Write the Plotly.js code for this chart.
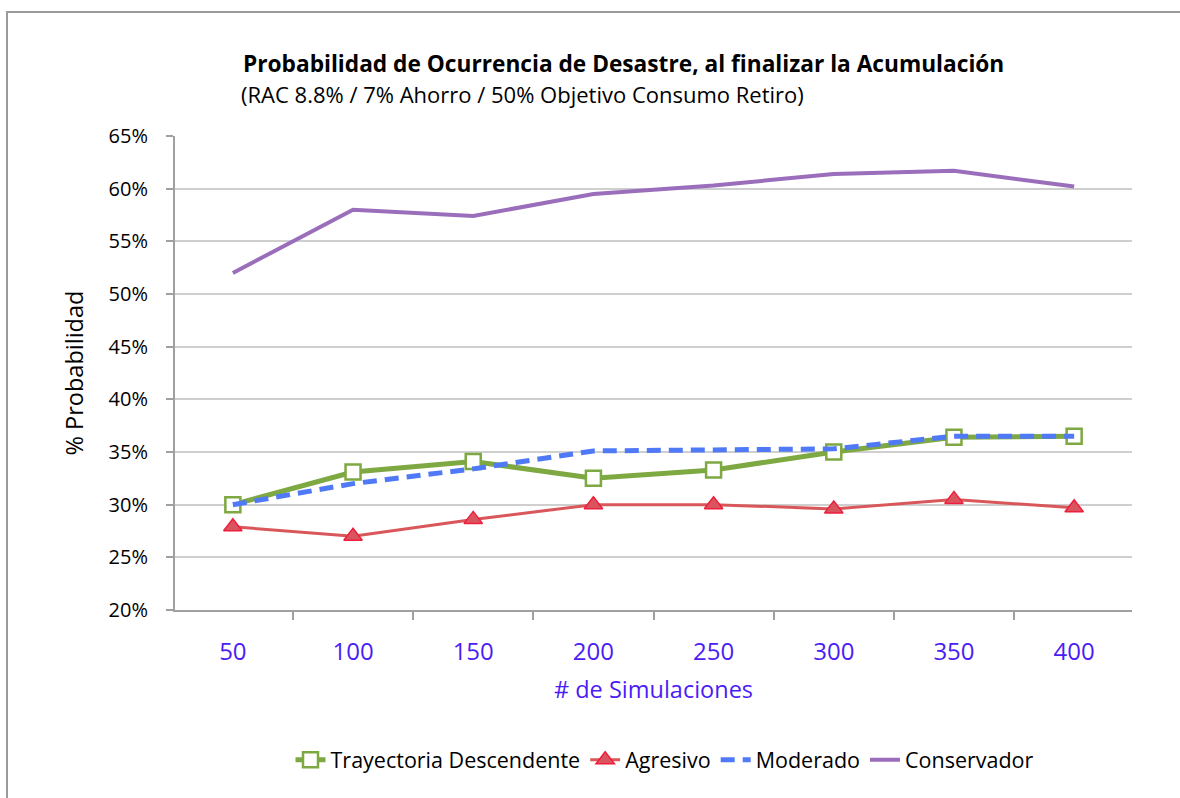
<!DOCTYPE html>
<html>
<head>
<meta charset="utf-8">
<script src="https://cdn.plot.ly/plotly-3.0.1.min.js"></script>
<style>
  html, body { margin: 0; padding: 0; background: #fff; overflow: hidden; }
  #frame { position: absolute; left: 6px; top: 11px; width: 1300px; height: 900px; border-left: 2px solid #9a9a9a; border-top: 2px solid #9a9a9a; pointer-events: none; }
  #chart { position: absolute; left: 0; top: 0; width: 1180px; height: 798px; }
</style>
</head>
<body>
<div id="chart"></div>
<div id="frame"></div>
<script>
const categories = ["50", "100", "150", "200", "250", "300", "350", "400"];
const trayectoria = [0.300, 0.331, 0.341, 0.325, 0.333, 0.350, 0.364, 0.365];
const agresivo    = [0.279, 0.270, 0.286, 0.300, 0.300, 0.296, 0.305, 0.297];
const moderado    = [0.300, 0.320, 0.334, 0.351, 0.352, 0.353, 0.365, 0.365];
const conservador = [0.520, 0.580, 0.574, 0.595, 0.603, 0.614, 0.617, 0.602];
const seriesNames = ["Trayectoria Descendente", "Agresivo", "Moderado", "Conservador"];

const FONT = "'Open Sans', sans-serif";

const traces = [
  {
    x: categories, y: trayectoria, name: seriesNames[0], type: "scatter", mode: "lines+markers",
    line: { color: "#7EA842", width: 5 },
    marker: { symbol: "square", size: 15, color: "#ffffff", line: { color: "#7EA842", width: 2.5 } }
  },
  {
    x: categories, y: agresivo, name: seriesNames[1], type: "scatter", mode: "lines+markers",
    line: { color: "#D9575A", width: 3 },
    marker: { symbol: "triangle-up", size: 16, color: "#DA5460", line: { color: "#EE1F3C", width: 1.5 } }
  },
  {
    x: categories, y: moderado, name: seriesNames[2], type: "scatter", mode: "lines",
    line: { color: "#4F79F7", width: 5, dash: "14px,8px" }
  },
  {
    x: categories, y: conservador, name: seriesNames[3], type: "scatter", mode: "lines",
    line: { color: "#9A6EBB", width: 4 }
  }
];

const layout = {
  width: 1180, height: 798,
  margin: { l: 175, r: 48, t: 136, b: 188 },
  paper_bgcolor: "#ffffff", plot_bgcolor: "#ffffff",
  font: { family: FONT, size: 20, color: "#000000" },
  showlegend: true,
  legend: {
    orientation: "h", x: (665 - 175) / 957, xanchor: "center", y: -0.316, yanchor: "middle",
    font: { family: FONT, size: 21.5, color: "#000000" },
    traceorder: "normal", itemwidth: 30
  },
  xaxis: {
    type: "category",
    tickson: "boundaries",
    ticks: "outside", ticklen: 8, tickwidth: 2, tickcolor: "#a0a0a0",
    showline: true, linecolor: "#a0a0a0", linewidth: 2,
    showgrid: false, zeroline: false,
    tickfont: { family: FONT, size: 24, color: "#4B1CF5" },
    ticklabelstandoff: 19,
    title: { text: "# de Simulaciones", font: { family: FONT, size: 23.5, color: "#4B1CF5" }, standoff: 16 },
    fixedrange: true
  },
  yaxis: {
    range: [0.20, 0.65], dtick: 0.05, tick0: 0.20, tickformat: ".0%",
    ticks: "outside", ticklen: 7, tickwidth: 2, tickcolor: "#a0a0a0",
    showline: true, linecolor: "#a0a0a0", linewidth: 2,
    showgrid: true, gridcolor: "#cfcfcf", gridwidth: 2,
    zeroline: false,
    tickfont: { family: FONT, size: 20, color: "#000000" },
    ticklabelstandoff: 14,
    title: { text: "% Probabilidad", font: { family: FONT, size: 23.5, color: "#000000" }, standoff: 18 },
    fixedrange: true
  },
  annotations: [
    {
      xref: "paper", yref: "paper", x: (241 - 175) / 957, y: (610 - 63) / 474,
      xanchor: "left", yanchor: "middle", showarrow: false,
      text: "<b>Probabilidad de Ocurrencia de Desastre, al finalizar la Acumulación</b>",
      font: { family: FONT, size: 22.7, color: "#000000" }
    },
    {
      xref: "paper", yref: "paper", x: (239 - 175) / 957, y: (610 - 94) / 474,
      xanchor: "left", yanchor: "middle", showarrow: false,
      text: "(RAC 8.8% / 7% Ahorro / 50% Objetivo Consumo Retiro)",
      font: { family: FONT, size: 22, color: "#000000" }
    }
  ]
};

Plotly.newPlot("chart", traces, layout, { displayModeBar: false, staticPlot: true });
</script>
</body>
</html>
